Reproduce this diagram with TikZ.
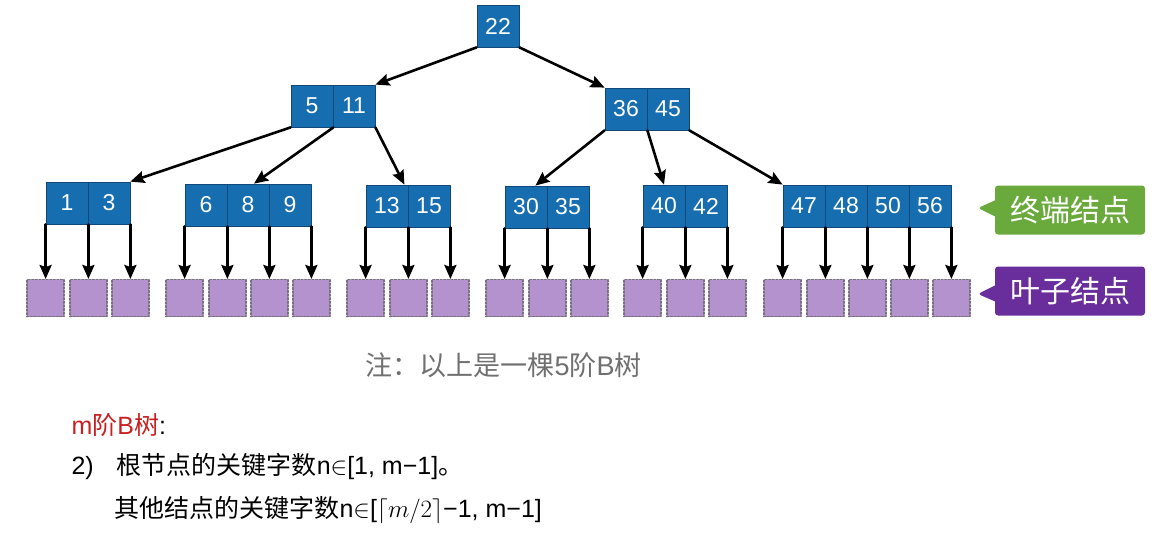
\documentclass[tikz,border=0pt]{standalone}
\usepackage{fontspec}
\setmainfont{Liberation Sans}
\newfontfamily\cjk{Noto Sans CJK SC}
\usetikzlibrary{arrows.meta,shapes.callouts}
\definecolor{keyblue}{RGB}{22,110,176}
\definecolor{keyedge}{RGB}{16,72,122}
\definecolor{leafpurple}{RGB}{180,146,205}
\definecolor{leafedge}{RGB}{120,112,130}
\definecolor{termgreen}{RGB}{106,170,60}
\definecolor{leafdark}{RGB}{106,46,156}
\definecolor{notegray}{RGB}{112,112,112}
\definecolor{mred}{RGB}{200,32,32}

\begin{document}
\begin{tikzpicture}[line cap=round,line join=round,>={Stealth[length=14pt,width=12pt,inset=2pt]},x=1pt,y=-1pt,
	key/.style={draw=keyedge,line width=0.8pt,fill=keyblue,text=white,minimum width=42pt,minimum height=42pt,inner sep=0pt,font=\fontsize{23}{23}\selectfont},
	leaf/.style={draw=leafedge,line width=1.4pt,dash pattern=on 2pt off 1.6pt,fill=leafpurple,minimum size=37pt,inner sep=0pt,anchor=north},
	link/.style={line width=2.6pt,->},
	tag/.style={rectangle callout,rounded corners=3pt,text=white,minimum width=150pt,minimum height=49pt,callout pointer width=16pt,font=\cjk\fontsize{30}{30}\selectfont},
	txt/.style={anchor=west,font=\fontsize{25}{25}\selectfont}]
			\useasboundingbox (0,0) rectangle (1160,546);
			\coordinate (lv) at (0,279);
			% root and second level
			\node[key] (r) at (498,26) {22};
			\node[key] (a1) at (312,106) {5};
			\node[key] (a2) at (354,106) {11};
			\node[key] (b1) at (626,109) {36};
			\node[key] (b2) at (668,109) {45};
			\draw[link] (r.south west) -- (a2.north east);
			\draw[link] (r.south east) -- (b1.north west);
			% terminal nodes
			\node[key] (c11) at (67,203) {1};
			\node[key] (c12) at (109,203) {3};
			\node[key] (c21) at (206,205) {6};
			\node[key] (c22) at (248,205) {8};
			\node[key] (c23) at (290,205) {9};
			\node[key] (c31) at (387,206) {13};
			\node[key] (c32) at (429,206) {15};
			\node[key] (c41) at (526,207) {30};
			\node[key] (c42) at (568,207) {35};
			\node[key] (c51) at (664,206) {40};
			\node[key] (c52) at (706,206) {42};
			\node[key] (c61) at (804,206) {47};
			\node[key] (c62) at (846,206) {48};
			\node[key] (c63) at (888,206) {50};
			\node[key] (c64) at (930,206) {56};
			\draw[link] (a1.south west) -- (c12.north east);
			\draw[link] (a1.south east) -- ([xshift=6pt]c22.north);
			\draw[link] (a2.south east) -- ([xshift=-4pt]c31.north east);
			\draw[link] (b1.south west) -- ([xshift=-12pt]c41.north east);
			\draw[link] (b1.south east) -- (c51.north);
			\draw[link] (b2.south east) -- (c61.north west);
			% leaf nodes
			\node[leaf] (f1) at (c11.south west |- lv) {}; \draw[link] (c11.south west) -- (f1);
			\node[leaf] (f2) at (c11.south east |- lv) {}; \draw[link] (c11.south east) -- (f2);
			\node[leaf] (f3) at (c12.south east |- lv) {}; \draw[link] (c12.south east) -- (f3);
			\node[leaf] (f4) at (c21.south west |- lv) {}; \draw[link] (c21.south west) -- (f4);
			\node[leaf] (f5) at (c21.south east |- lv) {}; \draw[link] (c21.south east) -- (f5);
			\node[leaf] (f6) at (c22.south east |- lv) {}; \draw[link] (c22.south east) -- (f6);
			\node[leaf] (f7) at (c23.south east |- lv) {}; \draw[link] (c23.south east) -- (f7);
			\node[leaf] (f8) at (c31.south west |- lv) {}; \draw[link] (c31.south west) -- (f8);
			\node[leaf] (f9) at (c31.south east |- lv) {}; \draw[link] (c31.south east) -- (f9);
			\node[leaf] (f10) at (c32.south east |- lv) {}; \draw[link] (c32.south east) -- (f10);
			\node[leaf] (f11) at (c41.south west |- lv) {}; \draw[link] (c41.south west) -- (f11);
			\node[leaf] (f12) at (c41.south east |- lv) {}; \draw[link] (c41.south east) -- (f12);
			\node[leaf] (f13) at (c42.south east |- lv) {}; \draw[link] (c42.south east) -- (f13);
			\node[leaf] (f14) at (c51.south west |- lv) {}; \draw[link] (c51.south west) -- (f14);
			\node[leaf] (f15) at (c51.south east |- lv) {}; \draw[link] (c51.south east) -- (f15);
			\node[leaf] (f16) at (c52.south east |- lv) {}; \draw[link] (c52.south east) -- (f16);
			\node[leaf] (f17) at (c61.south west |- lv) {}; \draw[link] (c61.south west) -- (f17);
			\node[leaf] (f18) at (c61.south east |- lv) {}; \draw[link] (c61.south east) -- (f18);
			\node[leaf] (f19) at (c62.south east |- lv) {}; \draw[link] (c62.south east) -- (f19);
			\node[leaf] (f20) at (c63.south east |- lv) {}; \draw[link] (c63.south east) -- (f20);
			\node[leaf] (f21) at (c64.south east |- lv) {}; \draw[link] (c64.south east) -- (f21);
			% callouts
			\node[tag,fill=termgreen,callout absolute pointer={(978,208)}] (t1) at (1070,210) {终端结点};
			\node[tag,fill=leafdark,callout absolute pointer={(978,294)}] (t2) at (1070,291) {叶子结点};
			% notes
			\node[txt,text=notegray,font=\fontsize{27}{27}\selectfont] (note) at (362,365) {{\cjk 注：以上是一棵}5{\cjk 阶}B{\cjk 树}};
			\node[txt] (def) at (68,425) {\textcolor{mred}{m{\cjk 阶}B{\cjk 树}}:};
			\node[txt] (rule1) at (68,467) {2)\hspace{23pt}{\cjk 根节点的关键字数}n$\in$[1, m−1]{\cjk 。}};
			\node[txt] (rule2) at (111,510) {{\cjk 其他结点的关键字数}n$\in$[$\lceil m/2\rceil$−1, m−1]};
\end{tikzpicture}
\end{document}
